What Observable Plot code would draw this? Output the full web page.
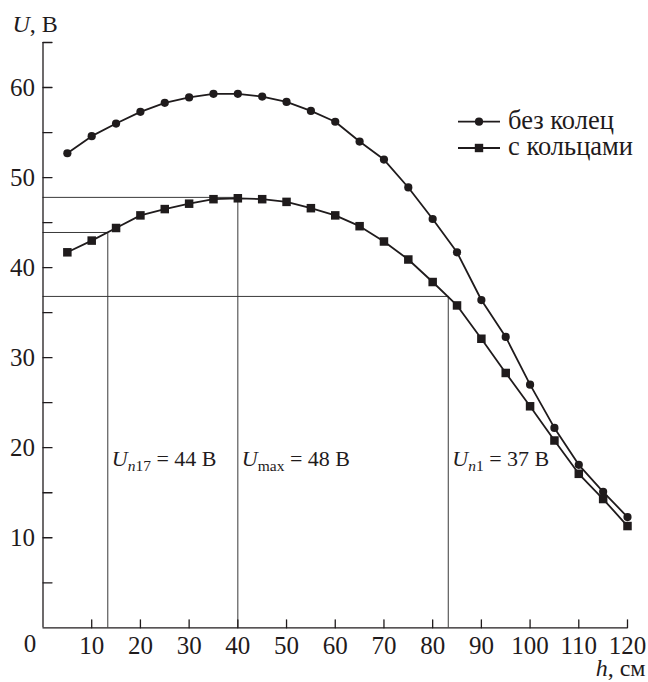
<!DOCTYPE html>
<html>
<head>
<meta charset="utf-8">
<script src="https://cdn.jsdelivr.net/npm/d3@7"></script>
<script src="https://cdn.jsdelivr.net/npm/@observablehq/plot@0.6"></script>
<style>
  body { margin: 0; background: #fff; }
  #chart { width: 648px; height: 682px; }
  #chart svg, #chart svg text, #chart svg tspan {
    font-family: "Liberation Serif", "Tinos", "Times New Roman", "DejaVu Serif", serif !important;
  }
</style>
</head>
<body>
<div id="chart"></div>
<script>
// ---- data ----
const heights = [5, 10, 15, 20, 25, 30, 35, 40, 45, 50, 55, 60, 65, 70, 75, 80, 85, 90, 95, 100, 105, 110, 115, 120];
const withoutRings = [52.7, 54.6, 56.0, 57.3, 58.3, 58.9, 59.3, 59.3, 59.0, 58.4, 57.4, 56.2, 54.0, 52.0, 48.9, 45.4, 41.7, 36.4, 32.3, 27.0, 22.2, 18.1, 15.1, 12.3];
const withRings    = [41.7, 43.0, 44.4, 45.8, 46.5, 47.1, 47.6, 47.7, 47.6, 47.3, 46.6, 45.8, 44.6, 42.9, 40.9, 38.4, 35.8, 32.1, 28.3, 24.6, 20.8, 17.1, 14.3, 11.3];
const seriesNames  = ["без колец", "с кольцами"];

const xTicks       = [10, 20, 30, 40, 50, 60, 70, 80, 90, 100, 110, 120];
const yTicksAll    = [5, 10, 15, 20, 25, 30, 35, 40, 45, 50, 55, 60, 65];
const yTickLabels  = [10, 20, 30, 40, 50, 60];

const annotH        = [13.3, 40, 83.2];
const annotU        = [43.9, 47.8, 36.8];
const annotSubIt    = ["n", "", "n"];
const annotSubRest  = ["17", "max", "1"];
const annotValue    = [44, 48, 37];

const yTitle = ["U", ", В"];
const xTitle = ["h", ", см"];
const originLabel = "0";

// ---- tables ----
const rows = heights.flatMap((h, i) => [
  {h, U: withoutRings[i], s: seriesNames[0]},
  {h, U: withRings[i], s: seriesNames[1]}
]);
const annot = annotH.map((h, i) => ({
  h, U: annotU[i], it: annotSubIt[i], rest: annotSubRest[i], v: annotValue[i],
  label: `U${annotSubIt[i]}${annotSubRest[i]} = ${annotValue[i]} В`
}));

const ink = "#1f1b1c";
const tickShape = {draw(ctx, l) { ctx.moveTo(0, 0); ctx.lineTo(0, -l); }};

const plot = Plot.plot({
  width: 648,
  height: 682,
  marginLeft: 42.5,
  marginRight: 21,
  marginTop: 42,
  marginBottom: 54.7,
  style: {fontSize: "24px", color: ink, background: "#fff"},
  x: {domain: [0, 120]},
  y: {domain: [0, 65]},
  marks: [
    // reference lines
    Plot.ruleY(annot, {y: "U", x1: 0, x2: "h", stroke: "#3a3a3a", strokeWidth: 1}),
    Plot.ruleX(annot, {x: "h", y1: 0, y2: "U", stroke: "#3a3a3a", strokeWidth: 1}),
    // axis lines
    Plot.ruleX([0], {stroke: ink, strokeWidth: 1.3}),
    Plot.ruleY([0], {stroke: ink, strokeWidth: 1.3}),
    // inward ticks
    Plot.vector(xTicks, {x: d => d, y: 0, length: 8, rotate: 0, anchor: "start", shape: tickShape, stroke: ink, strokeWidth: 1.3}),
    Plot.vector(yTicksAll, {x: 0, y: d => d, length: 9, rotate: 90, anchor: "start", shape: tickShape, stroke: ink, strokeWidth: 1.3}),
    // tick labels
    Plot.axisX({ticks: xTicks, tickSize: 0, tickPadding: 8, label: null, fontSize: 25}),
    Plot.axisY({ticks: yTickLabels, tickSize: 0, tickPadding: 8, label: null, fontSize: 25}),
    Plot.text([originLabel], {x: 0, y: 0, text: d => d, dx: -13, dy: 16.5, lineAnchor: "middle", fontSize: 25}),
    // curves
    Plot.line(rows, {x: "h", y: "U", z: "s", stroke: ink, strokeWidth: 1.8}),
    Plot.dot(rows.filter(d => d.s === seriesNames[0]), {x: "h", y: "U", r: 4.1, fill: ink, symbol: "circle"}),
    Plot.dot(rows.filter(d => d.s === seriesNames[1]), {x: "h", y: "U", r: 4.8, fill: ink, symbol: "square"}),
    // annotations
    Plot.text(annot, {x: "h", text: "label", frameAnchor: "bottom", dy: -169, dx: 4, textAnchor: "start", lineAnchor: "middle", fontSize: 22}),
    // axis titles
    Plot.text([yTitle.join("")], {text: d => d, frameAnchor: "top-left", dx: -30.5, dy: -17.7, textAnchor: "start", lineAnchor: "middle", fontSize: 24}),
    Plot.text([xTitle.join("")], {text: d => d, frameAnchor: "bottom-right", dx: 18, dy: 41, textAnchor: "end", lineAnchor: "middle", fontSize: 24})
  ]
});

document.getElementById("chart").appendChild(plot);

// ---- rich text (italic + subscripts) ----
function rich(el, parts) {
  const sel = d3.select(el);
  sel.selectAll("*").remove();
  sel.text(null);
  let inSub = false;
  for (const p of parts) {
    if (!p.t) continue;
    const ts = sel.append("tspan").text(p.t);
    if (p.italic) ts.attr("font-style", "italic");
    if (p.sub) {
      ts.attr("font-size", "15.5px");
      if (!inSub) { ts.attr("dy", 5); inSub = true; }
    } else if (inSub) {
      ts.attr("dy", -5); inSub = false;
    }
  }
}
const svg = d3.select(plot);
svg.selectAll("text").each(function() {
  const s = this.textContent;
  const a = annot.find(d => d.label === s);
  if (a) {
    rich(this, [
      {t: "U", italic: true},
      {t: a.it, italic: true, sub: true},
      {t: a.rest, sub: true},
      {t: ` = ${a.v} В`}
    ]);
  } else if (s === yTitle.join("")) {
    rich(this, [{t: yTitle[0], italic: true}, {t: yTitle[1]}]);
  } else if (s === xTitle.join("")) {
    rich(this, [{t: xTitle[0], italic: true}, {t: xTitle[1]}]);
  }
});

// ---- legend ----
const leg = svg.append("g").attr("aria-label", "legend")
  .attr("font-size", 26.5).attr("fill", ink).attr("text-anchor", "start");
const legY = [121.7, 148];
seriesNames.forEach((name, i) => {
  const g = leg.append("g").attr("transform", `translate(0,${legY[i]})`);
  g.append("line").attr("x1", 458).attr("x2", 500).attr("stroke", ink).attr("stroke-width", 1.8);
  if (i === 0) g.append("circle").attr("cx", 479).attr("r", 4.1);
  else g.append("rect").attr("x", 479 - 4.2).attr("y", -4.2).attr("width", 8.4).attr("height", 8.4);
  g.append("text").attr("x", 508).attr("y", 7).attr("text-anchor", "start").text(name);
});
</script>
</body>
</html>
